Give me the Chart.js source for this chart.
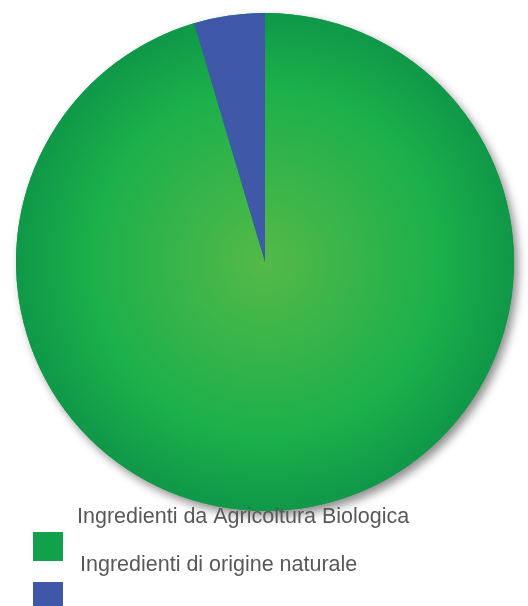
<!DOCTYPE html>
<html>
<head>
<meta charset="utf-8">
<script src="https://cdn.jsdelivr.net/npm/chart.js@4"></script>
<style>
  html, body { margin: 0; padding: 0; background: #fff; }
  #wrap { position: relative; width: 528px; height: 606px; overflow: hidden; }
</style>
</head>
<body>
<div id="wrap"><canvas id="pie" width="528" height="606"></canvas></div>
<script>
// dati del grafico
const labels = ['Ingredienti da Agricoltura Biologica', 'Ingredienti di origine naturale'];
const values = [95.4, 4.6];
const colorsEdge = ['#0f9848', '#3e57a8'];
const colorsMid = ['#1cb04b', '#3f58a8'];
const colorsCenter = ['#54b948', '#4159a9'];

// gradiente radiale per ogni fetta
const radialFill = (context) => {
    const i = context.dataIndex;
    const area = context.chart.chartArea;
    if (!area) return colorsEdge[i];
    const c = context.chart.ctx;
    const cx = (area.left + area.right) / 2;
    const cy = (area.top + area.bottom) / 2;
    const r = Math.min(area.right - area.left, area.bottom - area.top) / 2;
    const g = c.createRadialGradient(cx, cy, 0, cx, cy, r);
    g.addColorStop(0, colorsCenter[i]);
    g.addColorStop(0.7, colorsMid[i]);
    g.addColorStop(1, colorsEdge[i]);
    return g;
};

// ombra sotto il cerchio
const shadowPlugin = {
    id: 'pieShadow',
    beforeDatasetsDraw(chart) {
        const arc = chart.getDatasetMeta(0).data[0];
        if (!arc) return;
        const c = chart.ctx;
        c.save();
        c.shadowColor = 'rgba(0, 0, 0, 0.45)';
        c.shadowBlur = 10;
        c.shadowOffsetX = 4;
        c.shadowOffsetY = 5;
        c.beginPath();
        c.arc(arc.x, arc.y, arc.outerRadius, 0, Math.PI * 2);
        c.fillStyle = colorsEdge[0];
        c.fill();
        c.restore();
    }
};

// legenda disegnata a mano (testo sopra i quadratini, come nell'originale)
const legendPlugin = {
    id: 'offsetLegend',
    afterDraw(chart) {
        const c = chart.ctx;
        c.save();
        c.font = '21.5px "Liberation Sans", Arial, sans-serif';
        c.fillStyle = '#58585a';
        c.textBaseline = 'alphabetic';
        c.fillText(labels[0], 77, 523);
        c.fillText(labels[1], 80, 571);
        c.fillStyle = '#12a14a';
        c.fillRect(33, 532, 30, 29);
        c.fillStyle = colorsEdge[1];
        c.fillRect(33, 582, 30, 29);
        c.restore();
    }
};

new Chart(document.getElementById('pie'), {
    type: 'pie',
    data: {
        labels: labels,
        datasets: [{
            data: values,
            backgroundColor: radialFill,
            borderWidth: 0,
            hoverOffset: 0
        }]
    },
    options: {
        responsive: false,
        animation: false,
        layout: { padding: { left: 16, right: 14, top: 13, bottom: 95 } },
        plugins: {
            legend: { display: false },
            tooltip: { enabled: false }
        }
    },
    plugins: [shadowPlugin, legendPlugin]
});
</script>
</body>
</html>
